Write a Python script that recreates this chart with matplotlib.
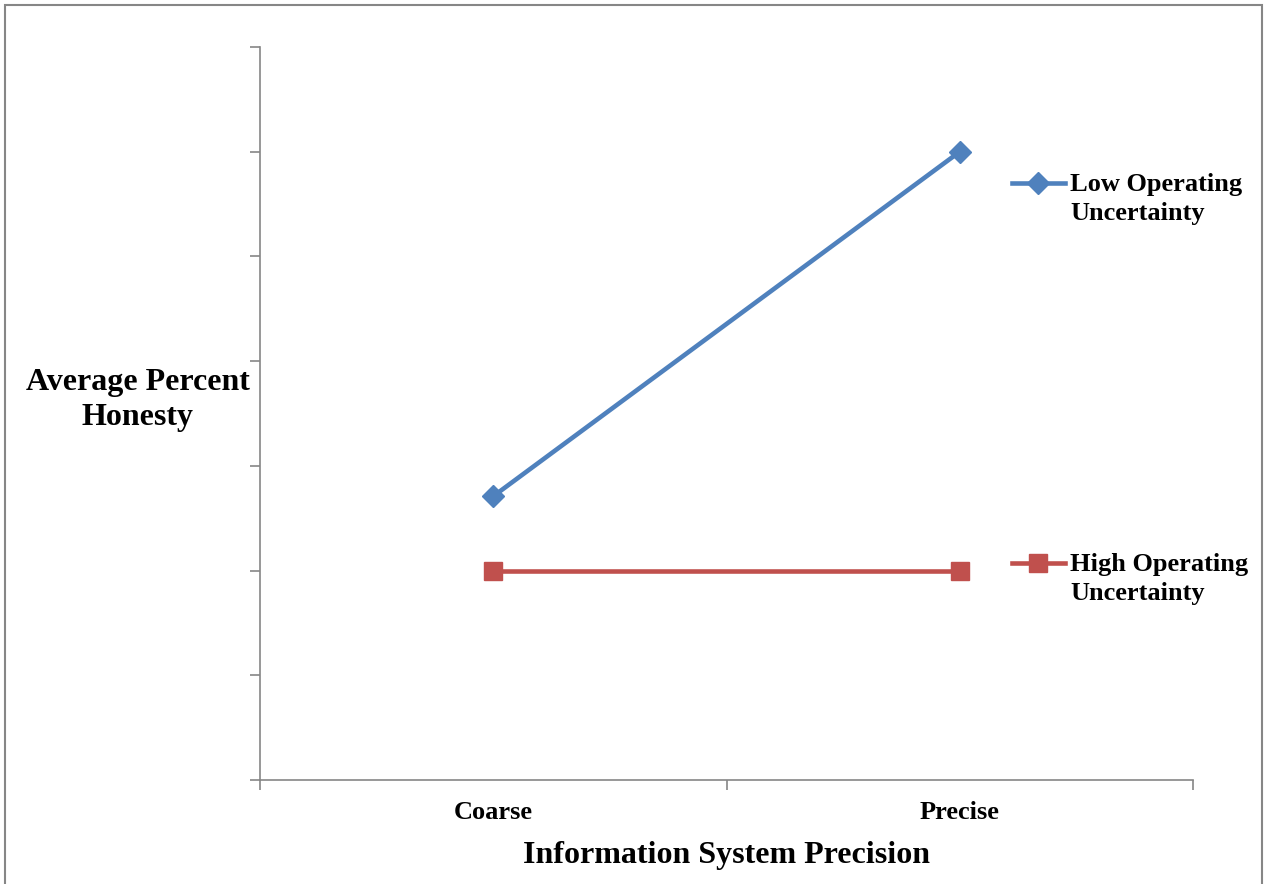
import matplotlib.pyplot as plt
from matplotlib.lines import Line2D
from matplotlib.patches import Rectangle

# data (y axis is unlabelled, scale 0..7)
categories = ["Coarse", "Precise"]
low_uncertainty = [2.71, 6.0]
high_uncertainty = [2.0, 2.0]
series_labels = ["Low Operating\nUncertainty", "High Operating\nUncertainty"]

BLUE = "#4F81BD"
RED = "#C0504D"
AXIS_GREY = "#868686"

plt.rcParams["font.family"] = ["Liberation Serif", "DejaVu Serif"]
plt.rcParams["font.weight"] = "bold"

W, H = 1267, 884
fig = plt.figure(figsize=(W / 100, H / 100), dpi=100)
ax = fig.add_axes([260 / W, 1 - 780 / H, (1193 - 260) / W, (780 - 47) / H])

x = [0.5, 1.5]
styles = [dict(color=BLUE, marker="D", ms=11), dict(color=RED, marker="s", ms=13)]
for vals, st in zip([low_uncertainty, high_uncertainty], styles):
    ax.plot(x, vals, lw=3.3, solid_capstyle="butt", **st)

ax.set_xlim(0, 2)
ax.set_ylim(0, 7)
ax.set_yticks(range(8))
ax.set_yticklabels([])
ax.set_xticks([0, 1, 2])
ax.set_xticklabels([])
ax.set_xticks(x, minor=True)
ax.set_xticklabels(categories, minor=True, fontsize=19, fontweight="bold")
ax.tick_params(axis="x", which="minor", length=0, pad=15)
ax.tick_params(axis="both", which="major", length=7, width=1.2, color=AXIS_GREY,
               direction="out")
for side in ("top", "right"):
    ax.spines[side].set_visible(False)
for side in ("left", "bottom"):
    ax.spines[side].set_color(AXIS_GREY)
    ax.spines[side].set_linewidth(1.2)

ax.set_xlabel("Information System Precision", fontsize=23, fontweight="bold",
              labelpad=12)
fig.text(138 / W, 1 - 400 / H, "Average Percent\nHonesty", fontsize=23,
         fontweight="bold", ha="center", va="center", linespacing=1.3)

# legend entries at the right, handle level with the first text line
for label, st, y_first in zip(series_labels, styles, [183, 563]):
    fig.lines.append(Line2D([1012 / W, 1065 / W], [1 - y_first / H] * 2,
                            transform=fig.transFigure, lw=3.3,
                            markevery=[], **st))
    fig.lines.append(Line2D([1038 / W], [1 - y_first / H],
                            transform=fig.transFigure, ls="none", **st))
    fig.text(1070 / W, 1 - (y_first + 16) / H, label, fontsize=19,
             fontweight="bold", ha="left", va="center", linespacing=1.38)

# grey frame round the whole chart
fig.patches.append(Rectangle((5 / W, -0.01), (1262 - 5) / W, 1 - 5 / H + 0.01,
                             transform=fig.transFigure, fill=False,
                             edgecolor=AXIS_GREY, lw=1.5))

fig.savefig("out.png", dpi=100)
